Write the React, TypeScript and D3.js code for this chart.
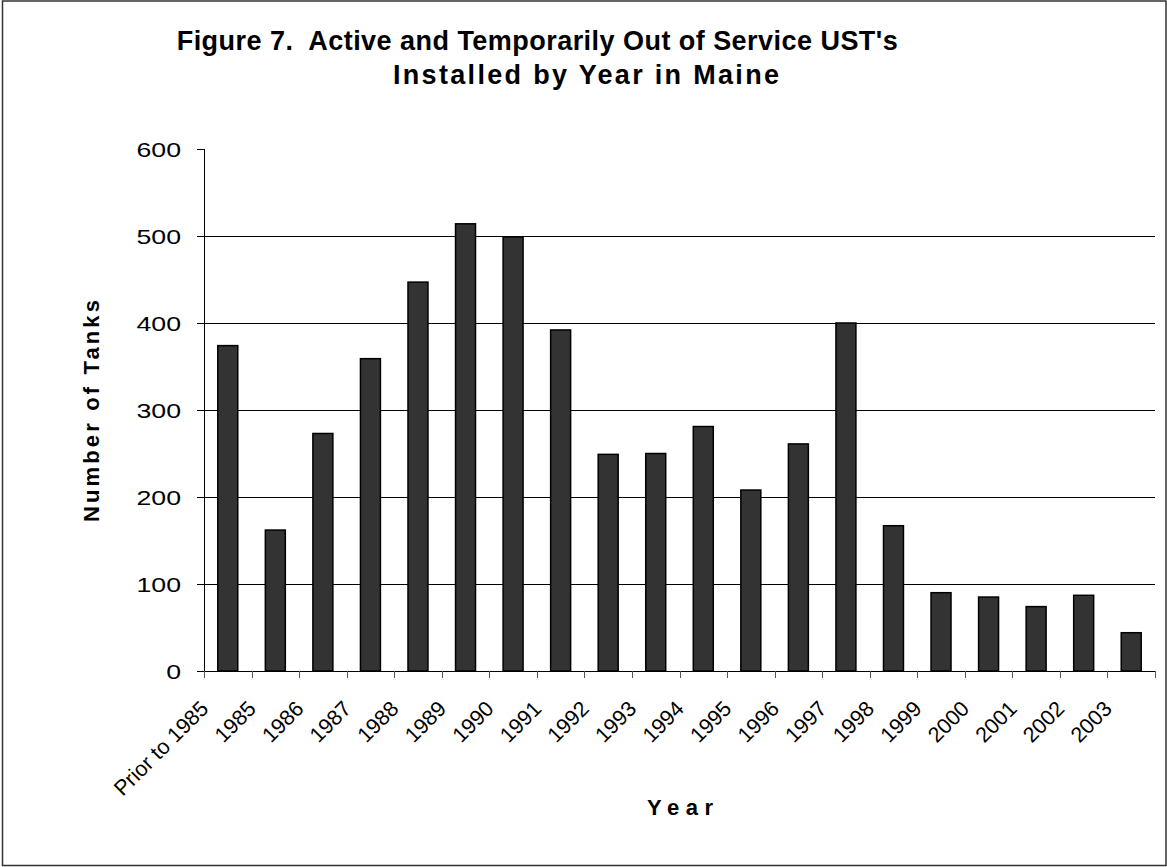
import * as React from 'react'
import * as d3 from 'd3'

const width = 1167
const height = 867
const margin = { top: 149, right: 12, bottom: 196, left: 204 }
const barFill = '#333333'

const categories = [
  'Prior to 1985', '1985', '1986', '1987', '1988', '1989', '1990', '1991', '1992', '1993',
  '1994', '1995', '1996', '1997', '1998', '1999', '2000', '2001', '2002', '2003',
]
const tanks = [374, 162, 273, 359, 447, 514, 499, 392, 249, 250, 281, 208, 261, 400, 167, 90, 85, 74, 87, 44]
const yTicks = [0, 100, 200, 300, 400, 500, 600]

const titleLine1 = "Figure 7.  Active and Temporarily Out of Service UST's"
const titleLine2 = 'Installed by Year in Maine'

const font = 'Arial, "Liberation Sans", Helvetica, sans-serif'

const App = () => {
  const x = d3
    .scaleBand()
    .domain(categories)
    .range([margin.left, width - margin.right])
    .padding(0)
  const y = d3
    .scaleLinear()
    .domain([0, 600])
    .range([height - margin.bottom, margin.top])

  const barW = x.bandwidth() * 0.42
  const y0 = y(0)

  return (
    <svg
      width={width}
      height={height}
      style={{ position: 'absolute', left: 0, top: 0, background: '#fff' }}
      fontFamily={font}
    >
      <rect x={2.5} y={1} width={1163.5} height={864.5} fill="#fff" stroke="#333" strokeWidth={1.5} />

      {/* title */}
      <text
        x={176.7}
        y={50}
        fontSize={27}
        fontWeight="bold"
        textLength={721}
        lengthAdjust="spacing"
        style={{ whiteSpace: 'pre' }}
      >
        {titleLine1}
      </text>
      <text x={393} y={84.3} fontSize={27} fontWeight="bold" textLength={386} lengthAdjust="spacing">
        {titleLine2}
      </text>

      {/* gridlines */}
      {yTicks.filter(t => t > 0 && t < 600).map(t => (
        <line key={t} x1={margin.left} x2={width - margin.right} y1={Math.round(y(t)) + 0.5} y2={Math.round(y(t)) + 0.5} stroke="#000" />
      ))}

      {/* bars */}
      {categories.map((c, i) => {
        const cx = x(c)! + x.bandwidth() / 2
        return (
          <rect
            key={c}
            x={cx - barW / 2}
            y={y(tanks[i])}
            width={barW}
            height={y0 - y(tanks[i])}
            fill={barFill}
            stroke="#000"
            strokeWidth={1.5}
          />
        )
      })}

      {/* y axis */}
      <line x1={margin.left + 0.5} x2={margin.left + 0.5} y1={margin.top} y2={y0} stroke="#000" />
      {yTicks.map(t => (
        <g key={t}>
          <line x1={margin.left - 7} x2={margin.left} y1={Math.round(y(t)) + 0.5} y2={Math.round(y(t)) + 0.5} stroke="#000" />
          <text
            transform={`translate(181, ${y(t) + 7.5}) scale(1.27, 1)`}
            textAnchor="end"
            fontSize={21}
          >
            {t}
          </text>
        </g>
      ))}

      {/* x axis */}
      <line x1={margin.left} x2={width - margin.right} y1={Math.round(y0) + 0.5} y2={Math.round(y0) + 0.5} stroke="#000" />
      {categories.concat(['']).map((c, i) => {
        const tx = Math.round(margin.left + i * x.bandwidth()) + 0.5
        return <line key={'t' + i} x1={tx} x2={tx} y1={y0} y2={y0 + 7} stroke="#555" />
      })}
      {categories.map(c => {
        const cx = x(c)! + x.bandwidth() / 2
        return (
          <text
            key={'l' + c}
            transform={`translate(${cx - 18}, 710) rotate(-45)`}
            textAnchor="end"
            fontSize={21.5}
          >
            {c}
          </text>
        )
      })}

      {/* axis titles */}
      <text
        transform="translate(99, 411) rotate(-90)"
        textAnchor="middle"
        fontSize={22}
        fontWeight="bold"
        textLength={222}
        lengthAdjust="spacing"
      >
        Number of Tanks
      </text>
      <text x={680} y={815} textAnchor="middle" fontSize={22} fontWeight="bold" textLength={66} lengthAdjust="spacing">
        Year
      </text>
    </svg>
  )
}

export default App
